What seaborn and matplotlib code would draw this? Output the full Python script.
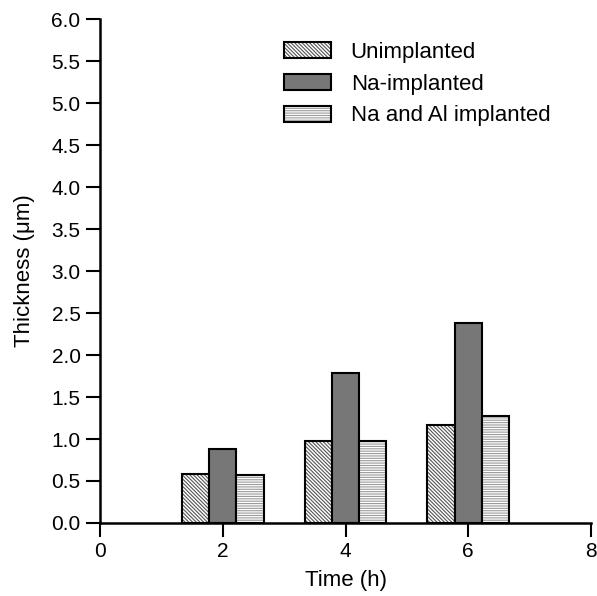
import numpy as np
import pandas as pd
import matplotlib
matplotlib.use("Agg")
import matplotlib.pyplot as plt
import seaborn as sns

times = [2, 4, 6]
unimplanted = [0.58, 0.98, 1.17]
na_implanted = [0.88, 1.78, 2.38]
na_al_implanted = [0.57, 0.98, 1.27]
series_names = ["Unimplanted", "Na-implanted", "Na and Al implanted"]

df = pd.DataFrame({
    "time": times * 3,
    "thickness": unimplanted + na_implanted + na_al_implanted,
    "sample": [s for s in series_names for _ in times],
})

sns.set_style("ticks")
plt.rcParams['font.family'] = ['Liberation Sans', 'DejaVu Sans']
plt.rcParams['hatch.linewidth'] = 0.8
plt.rcParams['text.color'] = 'black'
plt.rcParams['axes.labelcolor'] = 'black'
plt.rcParams['xtick.color'] = 'black'
plt.rcParams['ytick.color'] = 'black'

fig = plt.figure(figsize=(5.97, 5.96), dpi=100)
ax = fig.add_axes([0.1675, 0.1225, 0.8225, 0.8455])

face_colors = ["white", "#777777", "white"]
hatch_colors = ["#555555", "#777777", "#9a9a9a"]
hatches = ["\\\\\\\\\\\\\\\\\\", "", "-------"]

sns.barplot(data=df, x="time", y="thickness", hue="sample", hue_order=series_names,
            native_scale=True, width=0.667, palette=face_colors, edgecolor="black",
            linewidth=1.5, errorbar=None, legend=False, ax=ax)

for cont, hc, h in zip(ax.containers, hatch_colors, hatches):
    for bar in cont.patches:
        bar.set_hatch(h)
        bar._hatch_color = matplotlib.colors.to_rgba(hc)

handles = [cont.patches[0] for cont in ax.containers]
ax.legend(handles, series_names, loc="upper left", bbox_to_anchor=(0.334, 0.994),
          frameon=False, fontsize=16, handlelength=2.1, handleheight=0.75,
          handletextpad=0.9, labelspacing=0.48)

ax.set_xlim(0, 8)
ax.set_ylim(0, 6)
ax.set_xticks([0, 2, 4, 6, 8])
ax.set_yticks(np.arange(0, 6.01, 0.5))
ax.set_yticklabels([f"{v:.1f}" for v in np.arange(0, 6.01, 0.5)])
ax.set_xlabel("Time (h)", fontsize=16, labelpad=6)
ax.set_ylabel("Thickness (\u03bcm)", fontsize=16, labelpad=12)
ax.tick_params(labelsize=15, width=1.5, length=10, color="black", pad=4)
for s in ["left", "bottom"]:
    ax.spines[s].set_linewidth(1.8)
    ax.spines[s].set_color("black")
sns.despine(ax=ax)

fig.savefig("out.png", dpi=100)
